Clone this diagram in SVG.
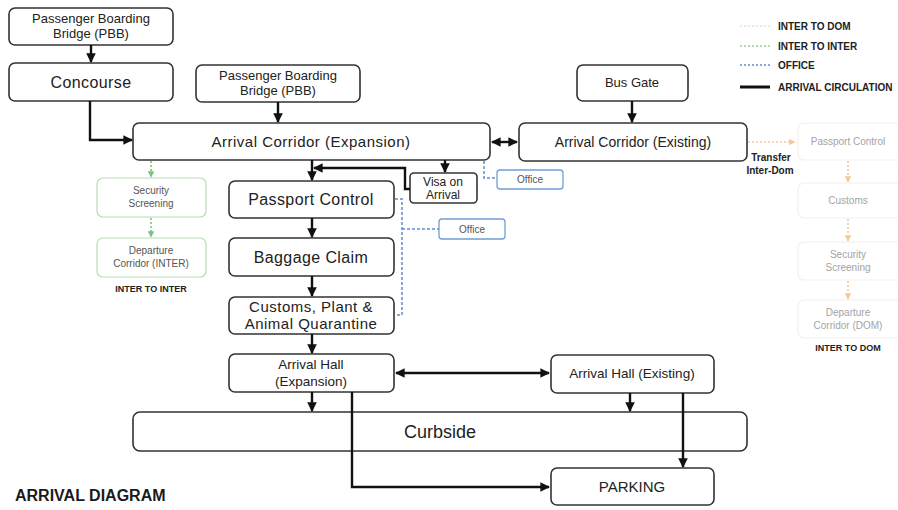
<svg xmlns="http://www.w3.org/2000/svg" width="898" height="510" viewBox="0 0 898 510">
<style>
.box{fill:#fff;stroke:#333;stroke-width:1.6}
.gbox{fill:#fff;stroke:#b5ddb5;stroke-width:1.2}
.obox{fill:#fff;stroke:#f3f0ec;stroke-width:1.2}
.bbox{fill:#fff;stroke:#6f9fd6;stroke-width:1.3}
text{font-family:"Liberation Sans",Arial,sans-serif;fill:#222;text-anchor:middle}
.t13{font-size:13px}
.t14{font-size:14px}
.t15{font-size:15px;letter-spacing:0.5px}
.t16{font-size:16px;letter-spacing:0.4px}
.small{font-size:10px;fill:#555}
.faint{font-size:10px;fill:#a3a3a3}
.bold{font-weight:bold}
.leg{font-size:10px;font-weight:bold;text-anchor:start}
.arr{fill:none;stroke:#111;stroke-width:2.4}
.gdot{fill:none;stroke:#7cc47c;stroke-width:1.6;stroke-dasharray:2 2}
.odot{fill:none;stroke:#f3c99a;stroke-width:1.6;stroke-dasharray:2 2}
.bdot{fill:none;stroke:#5b8fd0;stroke-width:1.5;stroke-dasharray:3 2}
</style>
<defs>
<marker id="ah" viewBox="0 0 10 10" refX="9" refY="5" markerWidth="4" markerHeight="4" orient="auto-start-reverse" markerUnits="strokeWidth"><path d="M0,0 L10,5 L0,10 z" fill="#111"/></marker>
<marker id="ag" viewBox="0 0 10 10" refX="9" refY="5" markerWidth="4" markerHeight="4" orient="auto" markerUnits="strokeWidth"><path d="M0,0 L10,5 L0,10 z" fill="#7cc47c"/></marker>
<marker id="ao" viewBox="0 0 10 10" refX="9" refY="5" markerWidth="4" markerHeight="4" orient="auto" markerUnits="strokeWidth"><path d="M0,0 L10,5 L0,10 z" fill="#f3c99a"/></marker>
</defs>

<g id="pbb1"><rect class="box" x="9" y="8" width="164" height="37" rx="6"/><text class="t13" x="91" y="23">Passenger Boarding</text><text class="t13" x="91" y="38">Bridge (PBB)</text></g>
<g id="concourse"><rect class="box" x="9" y="63" width="164" height="38" rx="6"/><text class="t16" x="91" y="88">Concourse</text></g>
<g id="pbb2"><rect class="box" x="196" y="65" width="164" height="37" rx="6"/><text class="t13" x="278" y="80">Passenger Boarding</text><text class="t13" x="278" y="95">Bridge (PBB)</text></g>
<g id="busgate"><rect class="box" x="577" y="65" width="111" height="36" rx="6"/><text class="t13" x="632" y="87">Bus Gate</text></g>
<g id="corridor-exp"><rect class="box" x="133" y="123" width="357" height="37" rx="6"/><text class="t15" x="311" y="147">Arrival Corridor (Expansion)</text></g>
<g id="corridor-ext"><rect class="box" x="519" y="123" width="228" height="38" rx="6"/><text style="font-size:14px" x="633" y="147">Arrival Corridor (Existing)</text></g>
<g id="visa"><rect class="box" x="410" y="173" width="67" height="30" rx="4"/><text style="font-size:12px" x="443" y="186">Visa on</text><text style="font-size:12px" x="443" y="199">Arrival</text></g>
<g id="office1"><rect class="bbox" x="497" y="170" width="66" height="19" rx="3"/><text class="small" x="530" y="183">Office</text></g>
<g id="office2"><rect class="bbox" x="439" y="219" width="66" height="20" rx="3"/><text class="small" x="472" y="233">Office</text></g>
<g id="passport"><rect class="box" x="229" y="181" width="165" height="37" rx="6"/><text class="t16" x="311" y="205">Passport Control</text></g>
<g id="baggage"><rect class="box" x="229" y="238" width="165" height="38" rx="6"/><text class="t16" x="311" y="263">Baggage Claim</text></g>
<g id="customs"><rect class="box" x="229" y="297" width="165" height="37" rx="6"/><text class="t15" x="311" y="312">Customs, Plant &amp;</text><text class="t15" x="311" y="329">Animal Quarantine</text></g>
<g id="hall-exp"><rect class="box" x="229" y="354" width="165" height="38" rx="6"/><text style="font-size:13.5px" x="311" y="369">Arrival Hall</text><text style="font-size:13.5px" x="311" y="386">(Expansion)</text></g>
<g id="hall-ext"><rect class="box" x="551" y="355" width="163" height="38" rx="6"/><text style="font-size:13.5px" x="632" y="378">Arrival Hall (Existing)</text></g>
<g id="curbside"><rect class="box" x="133" y="412" width="614" height="39" rx="7"/><text style="font-size:18px" x="440" y="438">Curbside</text></g>
<g id="parking"><rect class="box" x="551" y="468" width="163" height="37" rx="6"/><text style="font-size:15px" x="632" y="492">PARKING</text></g>

<g id="sec-inter"><rect class="gbox" x="97" y="178" width="109" height="39" rx="6"/><text class="small" x="151" y="194">Security</text><text class="small" x="151" y="207">Screening</text></g>
<g id="dep-inter"><rect class="gbox" x="97" y="238" width="109" height="39" rx="6"/><text class="small" x="151" y="254">Departure</text><text class="small" x="151" y="267">Corridor (INTER)</text></g>
<text class="bold" style="font-size:9px" x="151" y="292">INTER TO INTER</text>

<g id="pc-dom"><rect class="obox" x="798" y="123" width="106" height="37" rx="6"/><text class="faint" x="848" y="145">Passport Control</text></g>
<g id="cus-dom"><rect class="obox" x="798" y="183" width="106" height="35" rx="6"/><text class="faint" x="848" y="204">Customs</text></g>
<g id="sec-dom"><rect class="obox" x="798" y="242" width="106" height="38" rx="6"/><text class="faint" x="848" y="258">Security</text><text class="faint" x="848" y="271">Screening</text></g>
<g id="dep-dom"><rect class="obox" x="798" y="300" width="106" height="38" rx="6"/><text class="faint" x="848" y="316">Departure</text><text class="faint" x="848" y="329">Corridor (DOM)</text></g>
<text class="bold" style="font-size:9px" x="848" y="351">INTER TO DOM</text>
<text class="bold" style="font-size:10px" x="771" y="161">Transfer</text>
<text class="bold" style="font-size:10px" x="770" y="174">Inter-Dom</text>

<g id="connectors">
<path class="arr" d="M91,45 V62" marker-end="url(#ah)"/>
<path class="arr" d="M90,101 V140 H132" marker-end="url(#ah)"/>
<path class="arr" d="M278,102 V122" marker-end="url(#ah)"/>
<path class="arr" d="M632,101 V122" marker-end="url(#ah)"/>
<path class="arr" d="M492,142 H517" marker-start="url(#ah)" marker-end="url(#ah)"/>
<path class="arr" d="M312,160 V180" marker-end="url(#ah)"/>
<path class="arr" d="M445,160 V172" marker-end="url(#ah)"/>
<path class="arr" d="M410,189 H405 V168 H314" marker-end="url(#ah)"/>
<path class="arr" d="M312,218 V237" marker-end="url(#ah)"/>
<path class="arr" d="M312,276 V296" marker-end="url(#ah)"/>
<path class="arr" d="M312,334 V353" marker-end="url(#ah)"/>
<path class="arr" d="M396,373 H549" marker-start="url(#ah)" marker-end="url(#ah)"/>
<path class="arr" d="M312,392 V411" marker-end="url(#ah)"/>
<path class="arr" d="M630,393 V411" marker-end="url(#ah)"/>
<path class="arr" d="M352,392 V487 H549" marker-end="url(#ah)"/>
<path class="arr" d="M683,393 V467" marker-end="url(#ah)"/>
<path class="bdot" d="M484,161 V178 H497"/>
<path class="bdot" d="M395,199 H402 V315 H395"/>
<path class="bdot" d="M402,229 H439"/>
<path class="gdot" d="M151,161 V177" marker-end="url(#ag)"/>
<path class="gdot" d="M151,218 V237" marker-end="url(#ag)"/>
<path class="odot" d="M748,142 H795" marker-end="url(#ao)"/>
<path class="odot" d="M848,161 V182" marker-end="url(#ao)"/>
<path class="odot" d="M848,219 V241" marker-end="url(#ao)"/>
<path class="odot" d="M848,281 V299" marker-end="url(#ao)"/>
</g>

<g id="legend">
<line x1="740" y1="26" x2="770" y2="26" class="odot" style="stroke:#ece4cc"/>
<line x1="740" y1="46" x2="770" y2="46" class="gdot" style="stroke:#9ccc9c"/>
<line x1="740" y1="65" x2="770" y2="65" class="bdot" style="stroke-dasharray:2 2"/>
<line x1="740" y1="87" x2="770" y2="87" stroke="#111" stroke-width="3"/>
<text class="leg" x="778" y="30">INTER TO DOM</text>
<text class="leg" x="778" y="50">INTER TO INTER</text>
<text class="leg" x="778" y="69">OFFICE</text>
<text class="leg" x="778" y="91">ARRIVAL  CIRCULATION</text>
</g>

<text class="bold" style="font-size:16px;text-anchor:start;fill:#1a1a1a" x="15" y="501">ARRIVAL DIAGRAM</text>
</svg>
